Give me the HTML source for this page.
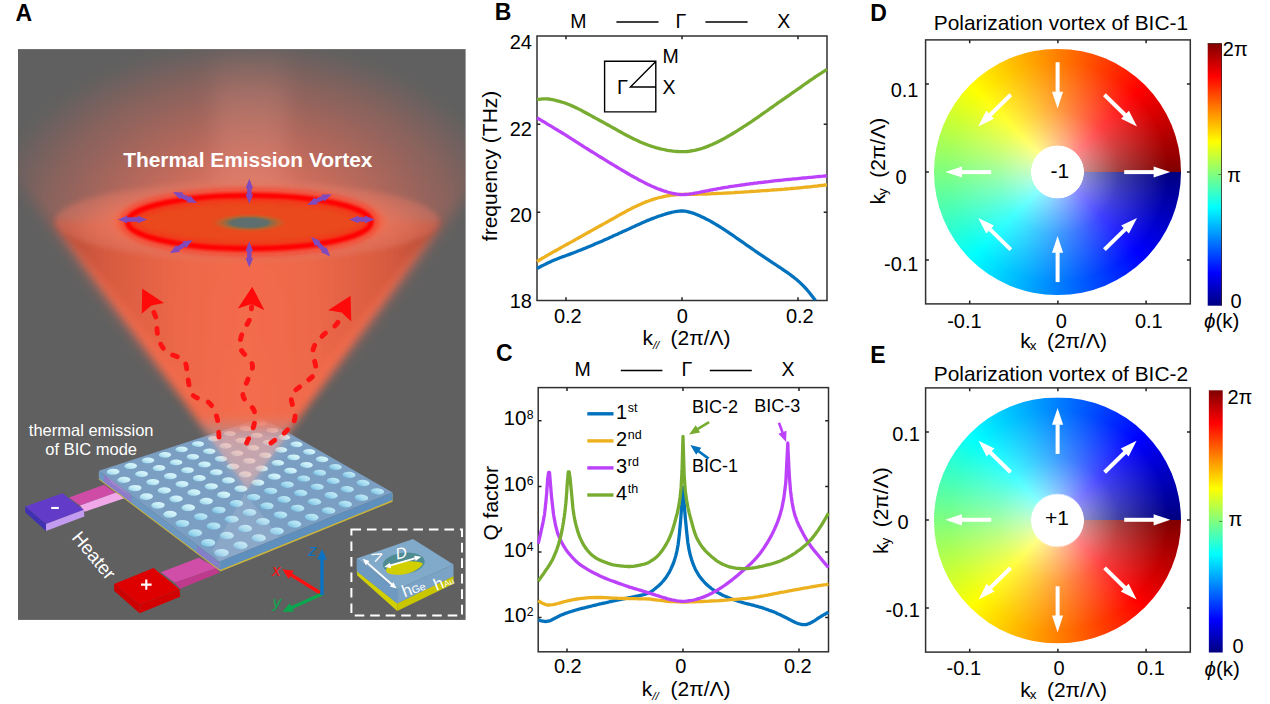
<!DOCTYPE html>
<html><head><meta charset="utf-8"><title>figure</title>
<style>
html,body{margin:0;padding:0;background:#fff}
body{width:1270px;height:704px;position:relative;overflow:hidden;font-family:"Liberation Sans",sans-serif}
svg{position:absolute;left:0;top:0}
svg text{font-family:"Liberation Sans",sans-serif}
</style></head><body>
<div style="position:absolute;left:934.4px;top:49.0px;width:246.4px;height:246.4px;border-radius:50%;background:radial-gradient(circle closest-side,#fff 0,#fff 21.2%,rgba(255,255,255,0.55) 21.7%,rgba(255,255,255,0.25) 50%,rgba(255,255,255,0) 90%),conic-gradient(from 90deg,#000080 0%,#0000ff 12.5%,#00ffff 37.5%,#ffff00 62.5%,#ff0000 87.5%,#800000 100%)"></div>
<div style="position:absolute;left:934.4px;top:396.9px;width:246.4px;height:246.4px;border-radius:50%;transform:scaleY(-1);background:radial-gradient(circle closest-side,#fff 0,#fff 21.2%,rgba(255,255,255,0.55) 21.7%,rgba(255,255,255,0.25) 50%,rgba(255,255,255,0) 90%),conic-gradient(from 90deg,#000080 0%,#0000ff 12.5%,#00ffff 37.5%,#ffff00 62.5%,#ff0000 87.5%,#800000 100%)"></div>

<svg width="1270" height="704" viewBox="0 0 1270 704">
<defs><linearGradient id="jetv" x1="0" y1="1" x2="0" y2="0">
<stop offset="0" stop-color="#000080"/><stop offset="0.125" stop-color="#0000ff"/><stop offset="0.375" stop-color="#00ffff"/>
<stop offset="0.625" stop-color="#ffff00"/><stop offset="0.875" stop-color="#ff0000"/><stop offset="1" stop-color="#800000"/></linearGradient>
<radialGradient id="haze" cx="0.5" cy="0.5" r="0.5">
<stop offset="0" stop-color="#ec7660" stop-opacity="0.96"/><stop offset="0.3" stop-color="#e4705c" stop-opacity="0.86"/>
<stop offset="0.55" stop-color="#d86a58" stop-opacity="0.64"/><stop offset="0.8" stop-color="#cc6658" stop-opacity="0.35"/>
<stop offset="0.93" stop-color="#c46456" stop-opacity="0.13"/>
<stop offset="1" stop-color="#c06458" stop-opacity="0"/></radialGradient>
<linearGradient id="column" x1="0" y1="0" x2="0" y2="1">
<stop offset="0" stop-color="#f0a090" stop-opacity="0"/><stop offset="0.35" stop-color="#f0a090" stop-opacity="0.22"/>
<stop offset="1" stop-color="#f09884" stop-opacity="0.3"/></linearGradient>
<filter id="blur8" filterUnits="userSpaceOnUse" x="-100" y="-20" width="700" height="700"><feGaussianBlur stdDeviation="9 4"/></filter>
<linearGradient id="coneV" x1="0" y1="1" x2="0" y2="0">
<stop offset="0" stop-color="#f7b4ac" stop-opacity="0.42"/><stop offset="0.2" stop-color="#f6a298" stop-opacity="0.5"/>
<stop offset="0.235" stop-color="#f4826c" stop-opacity="0.8"/><stop offset="0.275" stop-color="#f36c4c" stop-opacity="1"/>
<stop offset="1" stop-color="#f26a4a" stop-opacity="1"/></linearGradient>
<linearGradient id="coneH" x1="0" y1="0" x2="1" y2="0">
<stop offset="0" stop-color="#6a2820" stop-opacity="0.55"/><stop offset="0.12" stop-color="#8a3024" stop-opacity="0.3"/><stop offset="0.32" stop-color="#a03a28" stop-opacity="0.08"/>
<stop offset="0.5" stop-color="#ff8060" stop-opacity="0.04"/>
<stop offset="0.68" stop-color="#a03a28" stop-opacity="0.08"/><stop offset="0.88" stop-color="#8a3024" stop-opacity="0.3"/><stop offset="1" stop-color="#6a2820" stop-opacity="0.55"/></linearGradient>
<radialGradient id="topdisk" cx="0.5" cy="0.5" r="0.5">
<stop offset="0" stop-color="#f0745a" stop-opacity="1"/><stop offset="0.7" stop-color="#ea775f" stop-opacity="0.85"/>
<stop offset="1" stop-color="#de7864" stop-opacity="0.42"/></radialGradient>
<radialGradient id="core" cx="0.5" cy="0.5" r="0.5">
<stop offset="0" stop-color="#5e6e70"/><stop offset="0.46" stop-color="#606e6c"/><stop offset="0.56" stop-color="#8c6c48"/>
<stop offset="0.75" stop-color="#c2622c" stop-opacity="0.85"/><stop offset="1" stop-color="#e94a1f" stop-opacity="0"/></radialGradient>
<linearGradient id="hole0" x1="0" y1="1" x2="1" y2="0">
<stop offset="0" stop-color="#e2f8fc"/><stop offset="0.55" stop-color="#c4ecf6"/><stop offset="1" stop-color="#7fc4e4"/></linearGradient>
<linearGradient id="hole1" x1="0" y1="1" x2="1" y2="0">
<stop offset="0" stop-color="#cdeff8"/><stop offset="0.55" stop-color="#a4dbf0"/><stop offset="1" stop-color="#62b0dc"/></linearGradient>
<filter id="blur7" filterUnits="userSpaceOnUse" x="-100" y="-20" width="700" height="700"><feGaussianBlur stdDeviation="7"/></filter>
<filter id="blur4" filterUnits="userSpaceOnUse" x="-100" y="-20" width="700" height="700"><feGaussianBlur stdDeviation="4"/></filter>
<filter id="blur3" filterUnits="userSpaceOnUse" x="-100" y="-20" width="700" height="700"><feGaussianBlur stdDeviation="3"/></filter>
<filter id="blur2" filterUnits="userSpaceOnUse" x="-100" y="-20" width="700" height="700"><feGaussianBlur stdDeviation="2.5"/></filter>
<filter id="blur15" filterUnits="userSpaceOnUse" x="-100" y="-20" width="700" height="700"><feGaussianBlur stdDeviation="1.2"/></filter>
</defs>
<clipPath id="clipA"><rect x="18" y="49.1" width="447.6" height="570.8"/></clipPath>
<rect x="18" y="49.1" width="447.6" height="570.8" fill="#606060"/>
<g clip-path="url(#clipA)">
<clipPath id="clipHz"><polygon points="247.5,496 -84,40 579,40"/></clipPath>
<g filter="url(#blur7)"><g clip-path="url(#clipHz)"><ellipse cx="249" cy="224" rx="262" ry="182" fill="url(#haze)"/>
<rect x="214" y="40" width="72" height="190" fill="url(#column)" filter="url(#blur8)"/></g></g>
<polygon points="69.1,497.5 104.1,484.7 115.5,492.8 80.0,505.5" fill="#cf4ca6"/>
<polygon points="80.0,505.5 115.5,492.8 131.0,496.0 84.7,511.7" fill="#f0a8e8"/>
<polygon points="25.2,506.5 62.5,493.2 83.8,509.8 46.0,524.0" fill="#623cc8"/>
<polygon points="25.2,506.5 46.0,524.0 46.0,531.0 25.2,512.3" fill="#4030b2"/>
<polygon points="46.0,524.0 83.8,509.8 84.3,516.6 46.0,531.0" fill="#c39bf0"/>
<polygon points="160.9,572.2 198.8,557.8 216.9,567.9 174.8,582.8" fill="#d04ea8"/>
<polygon points="174.8,582.8 216.9,567.9 219.5,572.7 180.1,588.7" fill="#be3a8c"/>
<polygon points="114.1,583.9 153.5,567.9 179.6,589.2 139.6,604.7" fill="#de0000"/>
<polygon points="114.1,583.9 139.6,604.7 139.6,613.2 114.1,590.8" fill="#cc0000"/>
<polygon points="139.6,604.7 179.6,589.2 180.1,596.7 139.6,613.2" fill="#d20000"/>
<polygon points="98.9,471.8 218.9,562.8 392.6,493.5 392.6,501.7 220.4,571.6 98.9,479.6" fill="#c9b43c"/>
<polygon points="98.9,470.8 218.9,561.8 220.1,570.0 98.9,478.4" fill="#6d98c2"/>
<polygon points="218.9,561.8 392.6,492.5 392.6,500.1 220.1,570.0" fill="#5f90bd"/>
<polygon points="98.9,470.8 262.2,417.7 392.6,492.5 218.9,561.8" fill="#7a9fc3"/>
<ellipse cx="113.1" cy="471.8" rx="6.43" ry="3.03" transform="rotate(176.7 113.1 471.8)" fill="url(#hole0)"/>
<ellipse cx="123.9" cy="479.9" rx="6.51" ry="3.12" transform="rotate(176.9 123.9 479.9)" fill="url(#hole0)"/>
<ellipse cx="134.9" cy="488.1" rx="6.59" ry="3.21" transform="rotate(177.2 134.9 488.1)" fill="url(#hole0)"/>
<ellipse cx="146.3" cy="496.6" rx="6.68" ry="3.30" transform="rotate(177.4 146.3 496.6)" fill="url(#hole0)"/>
<ellipse cx="158.0" cy="505.3" rx="6.76" ry="3.39" transform="rotate(177.7 158.0 505.3)" fill="url(#hole0)"/>
<ellipse cx="170.0" cy="514.3" rx="6.86" ry="3.49" transform="rotate(178.0 170.0 514.3)" fill="url(#hole0)"/>
<ellipse cx="182.3" cy="523.5" rx="6.95" ry="3.59" transform="rotate(178.4 182.3 523.5)" fill="url(#hole1)"/>
<ellipse cx="195.1" cy="533.0" rx="7.05" ry="3.70" transform="rotate(178.8 195.1 533.0)" fill="url(#hole1)"/>
<ellipse cx="208.1" cy="542.8" rx="7.15" ry="3.81" transform="rotate(179.2 208.1 542.8)" fill="url(#hole1)"/>
<ellipse cx="221.6" cy="552.8" rx="7.25" ry="3.92" transform="rotate(179.6 221.6 552.8)" fill="url(#hole1)"/>
<ellipse cx="130.7" cy="466.1" rx="6.36" ry="2.98" transform="rotate(177.2 130.7 466.1)" fill="url(#hole0)"/>
<ellipse cx="141.6" cy="474.0" rx="6.44" ry="3.06" transform="rotate(177.4 141.6 474.0)" fill="url(#hole0)"/>
<ellipse cx="152.8" cy="482.1" rx="6.52" ry="3.15" transform="rotate(177.7 152.8 482.1)" fill="url(#hole0)"/>
<ellipse cx="164.3" cy="490.4" rx="6.60" ry="3.24" transform="rotate(178.0 164.3 490.4)" fill="url(#hole0)"/>
<ellipse cx="176.1" cy="498.9" rx="6.69" ry="3.33" transform="rotate(178.3 176.1 498.9)" fill="url(#hole0)"/>
<ellipse cx="188.3" cy="507.7" rx="6.78" ry="3.42" transform="rotate(178.6 188.3 507.7)" fill="url(#hole0)"/>
<ellipse cx="200.7" cy="516.7" rx="6.87" ry="3.52" transform="rotate(179.0 200.7 516.7)" fill="url(#hole1)"/>
<ellipse cx="213.6" cy="526.0" rx="6.97" ry="3.62" transform="rotate(179.4 213.6 526.0)" fill="url(#hole1)"/>
<ellipse cx="226.8" cy="535.6" rx="7.07" ry="3.73" transform="rotate(179.8 226.8 535.6)" fill="url(#hole1)"/>
<ellipse cx="240.4" cy="545.4" rx="7.18" ry="3.84" transform="rotate(-179.8 240.4 545.4)" fill="url(#hole1)"/>
<ellipse cx="148.0" cy="460.4" rx="6.29" ry="2.93" transform="rotate(177.7 148.0 460.4)" fill="url(#hole0)"/>
<ellipse cx="159.0" cy="468.1" rx="6.37" ry="3.01" transform="rotate(177.9 159.0 468.1)" fill="url(#hole0)"/>
<ellipse cx="170.3" cy="476.1" rx="6.45" ry="3.09" transform="rotate(178.2 170.3 476.1)" fill="url(#hole0)"/>
<ellipse cx="182.0" cy="484.2" rx="6.54" ry="3.18" transform="rotate(178.5 182.0 484.2)" fill="url(#hole0)"/>
<ellipse cx="193.9" cy="492.6" rx="6.62" ry="3.26" transform="rotate(178.8 193.9 492.6)" fill="url(#hole0)"/>
<ellipse cx="206.2" cy="501.2" rx="6.71" ry="3.35" transform="rotate(179.2 206.2 501.2)" fill="url(#hole0)"/>
<ellipse cx="218.8" cy="510.1" rx="6.80" ry="3.45" transform="rotate(179.5 218.8 510.1)" fill="url(#hole1)"/>
<ellipse cx="231.7" cy="519.2" rx="6.90" ry="3.55" transform="rotate(179.9 231.7 519.2)" fill="url(#hole1)"/>
<ellipse cx="245.1" cy="528.5" rx="7.00" ry="3.65" transform="rotate(-179.6 245.1 528.5)" fill="url(#hole1)"/>
<ellipse cx="258.8" cy="538.1" rx="7.10" ry="3.76" transform="rotate(-179.2 258.8 538.1)" fill="url(#hole1)"/>
<ellipse cx="165.0" cy="454.8" rx="6.23" ry="2.88" transform="rotate(178.2 165.0 454.8)" fill="url(#hole0)"/>
<ellipse cx="176.1" cy="462.4" rx="6.31" ry="2.96" transform="rotate(178.4 176.1 462.4)" fill="url(#hole0)"/>
<ellipse cx="187.5" cy="470.2" rx="6.39" ry="3.03" transform="rotate(178.7 187.5 470.2)" fill="url(#hole0)"/>
<ellipse cx="199.3" cy="478.2" rx="6.47" ry="3.12" transform="rotate(179.0 199.3 478.2)" fill="url(#hole0)"/>
<ellipse cx="211.3" cy="486.4" rx="6.55" ry="3.20" transform="rotate(179.3 211.3 486.4)" fill="url(#hole0)"/>
<ellipse cx="223.7" cy="494.9" rx="6.64" ry="3.29" transform="rotate(179.7 223.7 494.9)" fill="url(#hole0)"/>
<ellipse cx="236.4" cy="503.5" rx="6.74" ry="3.38" transform="rotate(-179.9 236.4 503.5)" fill="url(#hole1)"/>
<ellipse cx="249.5" cy="512.5" rx="6.83" ry="3.48" transform="rotate(-179.5 249.5 512.5)" fill="url(#hole1)"/>
<ellipse cx="262.9" cy="521.6" rx="6.93" ry="3.57" transform="rotate(-179.1 262.9 521.6)" fill="url(#hole1)"/>
<ellipse cx="276.8" cy="531.1" rx="7.03" ry="3.68" transform="rotate(-178.6 276.8 531.1)" fill="url(#hole1)"/>
<ellipse cx="181.6" cy="449.4" rx="6.17" ry="2.83" transform="rotate(178.6 181.6 449.4)" fill="url(#hole0)"/>
<ellipse cx="192.9" cy="456.8" rx="6.24" ry="2.90" transform="rotate(178.9 192.9 456.8)" fill="url(#hole0)"/>
<ellipse cx="204.4" cy="464.5" rx="6.32" ry="2.98" transform="rotate(179.2 204.4 464.5)" fill="url(#hole0)"/>
<ellipse cx="216.2" cy="472.3" rx="6.41" ry="3.06" transform="rotate(179.5 216.2 472.3)" fill="url(#hole0)"/>
<ellipse cx="228.4" cy="480.4" rx="6.49" ry="3.14" transform="rotate(179.8 228.4 480.4)" fill="url(#hole0)"/>
<ellipse cx="240.9" cy="488.7" rx="6.58" ry="3.23" transform="rotate(-179.8 240.9 488.7)" fill="url(#hole0)"/>
<ellipse cx="253.7" cy="497.2" rx="6.67" ry="3.31" transform="rotate(-179.4 253.7 497.2)" fill="url(#hole1)"/>
<ellipse cx="266.9" cy="505.9" rx="6.77" ry="3.40" transform="rotate(-179.0 266.9 505.9)" fill="url(#hole1)"/>
<ellipse cx="280.5" cy="514.9" rx="6.86" ry="3.50" transform="rotate(-178.6 280.5 514.9)" fill="url(#hole1)"/>
<ellipse cx="294.4" cy="524.1" rx="6.97" ry="3.60" transform="rotate(-178.1 294.4 524.1)" fill="url(#hole1)"/>
<ellipse cx="198.0" cy="444.0" rx="6.11" ry="2.78" transform="rotate(179.1 198.0 444.0)" fill="url(#hole0)"/>
<ellipse cx="209.3" cy="451.3" rx="6.19" ry="2.85" transform="rotate(179.3 209.3 451.3)" fill="url(#hole0)"/>
<ellipse cx="221.0" cy="458.8" rx="6.26" ry="2.92" transform="rotate(179.6 221.0 458.8)" fill="url(#hole0)"/>
<ellipse cx="232.9" cy="466.5" rx="6.35" ry="3.00" transform="rotate(180.0 232.9 466.5)" fill="url(#hole0)"/>
<ellipse cx="245.2" cy="474.4" rx="6.43" ry="3.08" transform="rotate(-179.7 245.2 474.4)" fill="url(#hole0)"/>
<ellipse cx="257.8" cy="482.6" rx="6.52" ry="3.16" transform="rotate(-179.3 257.8 482.6)" fill="url(#hole0)"/>
<ellipse cx="270.7" cy="490.9" rx="6.61" ry="3.25" transform="rotate(-178.9 270.7 490.9)" fill="url(#hole1)"/>
<ellipse cx="284.0" cy="499.4" rx="6.70" ry="3.34" transform="rotate(-178.5 284.0 499.4)" fill="url(#hole1)"/>
<ellipse cx="297.6" cy="508.2" rx="6.80" ry="3.43" transform="rotate(-178.1 297.6 508.2)" fill="url(#hole1)"/>
<ellipse cx="311.7" cy="517.3" rx="6.90" ry="3.52" transform="rotate(-177.6 311.7 517.3)" fill="url(#hole1)"/>
<ellipse cx="214.0" cy="438.7" rx="6.05" ry="2.73" transform="rotate(179.5 214.0 438.7)" fill="url(#hole0)"/>
<ellipse cx="225.5" cy="445.9" rx="6.13" ry="2.80" transform="rotate(179.8 225.5 445.9)" fill="url(#hole0)"/>
<ellipse cx="237.2" cy="453.3" rx="6.21" ry="2.87" transform="rotate(-179.9 237.2 453.3)" fill="url(#hole0)"/>
<ellipse cx="249.3" cy="460.9" rx="6.29" ry="2.94" transform="rotate(-179.6 249.3 460.9)" fill="url(#hole0)"/>
<ellipse cx="261.6" cy="468.6" rx="6.37" ry="3.02" transform="rotate(-179.2 261.6 468.6)" fill="url(#hole0)"/>
<ellipse cx="274.3" cy="476.6" rx="6.46" ry="3.10" transform="rotate(-178.9 274.3 476.6)" fill="url(#hole0)"/>
<ellipse cx="287.3" cy="484.7" rx="6.55" ry="3.18" transform="rotate(-178.5 287.3 484.7)" fill="url(#hole1)"/>
<ellipse cx="300.7" cy="493.1" rx="6.64" ry="3.27" transform="rotate(-178.1 300.7 493.1)" fill="url(#hole1)"/>
<ellipse cx="314.5" cy="501.8" rx="6.74" ry="3.35" transform="rotate(-177.6 314.5 501.8)" fill="url(#hole1)"/>
<ellipse cx="328.6" cy="510.6" rx="6.84" ry="3.45" transform="rotate(-177.1 328.6 510.6)" fill="url(#hole1)"/>
<ellipse cx="229.8" cy="433.6" rx="6.00" ry="2.68" transform="rotate(179.9 229.8 433.6)" fill="url(#hole0)"/>
<ellipse cx="241.3" cy="440.6" rx="6.07" ry="2.75" transform="rotate(-179.8 241.3 440.6)" fill="url(#hole0)"/>
<ellipse cx="253.2" cy="447.9" rx="6.15" ry="2.82" transform="rotate(-179.5 253.2 447.9)" fill="url(#hole0)"/>
<ellipse cx="265.3" cy="455.3" rx="6.23" ry="2.89" transform="rotate(-179.2 265.3 455.3)" fill="url(#hole0)"/>
<ellipse cx="277.8" cy="462.9" rx="6.31" ry="2.96" transform="rotate(-178.8 277.8 462.9)" fill="url(#hole0)"/>
<ellipse cx="290.5" cy="470.7" rx="6.40" ry="3.04" transform="rotate(-178.4 290.5 470.7)" fill="url(#hole0)"/>
<ellipse cx="303.7" cy="478.7" rx="6.49" ry="3.12" transform="rotate(-178.0 303.7 478.7)" fill="url(#hole1)"/>
<ellipse cx="317.1" cy="486.9" rx="6.58" ry="3.20" transform="rotate(-177.6 317.1 486.9)" fill="url(#hole1)"/>
<ellipse cx="331.0" cy="495.4" rx="6.68" ry="3.28" transform="rotate(-177.2 331.0 495.4)" fill="url(#hole1)"/>
<ellipse cx="345.2" cy="504.1" rx="6.78" ry="3.37" transform="rotate(-176.7 345.2 504.1)" fill="url(#hole1)"/>
<ellipse cx="245.3" cy="428.5" rx="5.95" ry="2.63" transform="rotate(-179.7 245.3 428.5)" fill="url(#hole0)"/>
<ellipse cx="256.9" cy="435.4" rx="6.02" ry="2.70" transform="rotate(-179.4 256.9 435.4)" fill="url(#hole0)"/>
<ellipse cx="268.8" cy="442.5" rx="6.10" ry="2.77" transform="rotate(-179.1 268.8 442.5)" fill="url(#hole0)"/>
<ellipse cx="281.1" cy="449.8" rx="6.18" ry="2.84" transform="rotate(-178.8 281.1 449.8)" fill="url(#hole0)"/>
<ellipse cx="293.6" cy="457.3" rx="6.26" ry="2.91" transform="rotate(-178.4 293.6 457.3)" fill="url(#hole0)"/>
<ellipse cx="306.5" cy="464.9" rx="6.35" ry="2.98" transform="rotate(-178.0 306.5 464.9)" fill="url(#hole0)"/>
<ellipse cx="319.7" cy="472.8" rx="6.44" ry="3.06" transform="rotate(-177.6 319.7 472.8)" fill="url(#hole1)"/>
<ellipse cx="333.2" cy="480.9" rx="6.53" ry="3.13" transform="rotate(-177.2 333.2 480.9)" fill="url(#hole1)"/>
<ellipse cx="347.2" cy="489.2" rx="6.63" ry="3.22" transform="rotate(-176.8 347.2 489.2)" fill="url(#hole1)"/>
<ellipse cx="361.5" cy="497.7" rx="6.73" ry="3.30" transform="rotate(-176.3 361.5 497.7)" fill="url(#hole1)"/>
<ellipse cx="260.5" cy="423.5" rx="5.90" ry="2.59" transform="rotate(-179.4 260.5 423.5)" fill="url(#hole0)"/>
<ellipse cx="272.2" cy="430.3" rx="5.97" ry="2.65" transform="rotate(-179.1 272.2 430.3)" fill="url(#hole0)"/>
<ellipse cx="284.2" cy="437.3" rx="6.05" ry="2.72" transform="rotate(-178.8 284.2 437.3)" fill="url(#hole0)"/>
<ellipse cx="296.5" cy="444.4" rx="6.13" ry="2.78" transform="rotate(-178.4 296.5 444.4)" fill="url(#hole0)"/>
<ellipse cx="309.2" cy="451.8" rx="6.21" ry="2.85" transform="rotate(-178.0 309.2 451.8)" fill="url(#hole0)"/>
<ellipse cx="322.1" cy="459.3" rx="6.29" ry="2.92" transform="rotate(-177.7 322.1 459.3)" fill="url(#hole0)"/>
<ellipse cx="335.4" cy="467.0" rx="6.38" ry="3.00" transform="rotate(-177.3 335.4 467.0)" fill="url(#hole1)"/>
<ellipse cx="349.0" cy="474.9" rx="6.48" ry="3.07" transform="rotate(-176.8 349.0 474.9)" fill="url(#hole1)"/>
<ellipse cx="363.0" cy="483.0" rx="6.57" ry="3.15" transform="rotate(-176.4 363.0 483.0)" fill="url(#hole1)"/>
<ellipse cx="377.4" cy="491.4" rx="6.67" ry="3.23" transform="rotate(-175.9 377.4 491.4)" fill="url(#hole1)"/>
<polygon points="104.0,474.7 131.0,495.1 131.6,502.8 104.0,482.3" fill="#c050d8" fill-opacity="0.38"/>
<polygon points="106.0,476.0 112.0,483.2 131.0,496.5 124.5,490.2" fill="#f4a8e4" fill-opacity="0.25"/>
<polygon points="197.0,545.2 218.9,561.8 220.0,569.8 197.0,553.0" fill="#b050d8" fill-opacity="0.35"/>
<polygon points="245.0,493.0 212.0,551.0 219.4,561.8 279.0,537.0" fill="#ffe4ec" fill-opacity="0.13"/>
<polygon points="247.5,489.0 208.5,436.0 286.5,436.0" fill="#ffb0a6" fill-opacity="0.22"/>
<g filter="url(#blur4)">
<polygon points="247.5,490.0 53.3,221.0 441.7,221.0" fill="url(#coneV)"/>
<polygon points="247.5,460.0 53.3,221.0 441.7,221.0" fill="url(#coneH)"/>
</g>
<ellipse cx="247" cy="221" rx="192" ry="40" fill="url(#topdisk)" filter="url(#blur2)"/>
<ellipse cx="249.3" cy="222" rx="136" ry="31.5" fill="#f2694a" filter="url(#blur3)"/>
<ellipse cx="249.3" cy="222" rx="121.7" ry="26.6" fill="#e94a1f" stroke="#ff1a10" stroke-opacity="0.55" stroke-width="12" filter="url(#blur3)"/>
<ellipse cx="249.3" cy="222" rx="121.7" ry="26.6" fill="none" stroke="#ff0505" stroke-width="5" filter="url(#blur15)"/>
<ellipse cx="249.3" cy="222.8" rx="40" ry="9.6" fill="url(#core)"/>
<polygon points="249.3,178.8 245.5,188.3 247.1,188.3 247.1,194.3 245.5,194.3 249.3,203.8 253.1,194.3 251.5,194.3 251.5,188.3 253.1,188.3" fill="#8049bc"/>
<polygon points="249.3,241.5 245.5,251.0 247.1,251.0 247.1,258.0 245.5,258.0 249.3,267.5 253.1,258.0 251.5,258.0 251.5,251.0 253.1,251.0" fill="#8049bc"/>
<polygon points="117.8,219.5 127.2,223.3 127.2,221.7 137.8,221.7 137.8,223.3 147.2,219.5 137.8,215.7 137.8,217.3 127.2,217.3 127.2,215.7" fill="#8049bc"/>
<polygon points="349.1,219.5 358.6,223.3 358.6,221.7 365.1,221.7 365.1,223.3 374.6,219.5 365.1,215.7 365.1,217.3 358.6,217.3 358.6,215.7" fill="#8049bc"/>
<polygon points="173.0,191.9 180.0,199.4 180.7,197.9 187.5,201.1 186.8,202.5 197.0,203.1 190.0,195.6 189.3,197.1 182.5,193.9 183.2,192.5" fill="#8049bc"/>
<polygon points="307.3,204.9 317.6,204.6 316.9,203.1 323.8,200.1 324.5,201.6 331.7,194.3 321.4,194.6 322.1,196.1 315.2,199.1 314.5,197.6" fill="#8049bc"/>
<polygon points="169.8,253.3 179.9,251.8 179.1,250.4 185.5,246.6 186.4,248.0 192.6,239.9 182.5,241.4 183.3,242.8 176.9,246.6 176.0,245.2" fill="#8049bc"/>
<polygon points="311.1,236.8 315.0,246.2 316.2,245.1 322.1,251.2 321.0,252.3 330.3,256.4 326.4,247.0 325.2,248.1 319.3,242.0 320.4,240.9" fill="#8049bc"/>
<text x="247.8" y="167.3" font-size="20.9" font-weight="bold" fill="#fff" text-anchor="middle">Thermal Emission Vortex</text>
<path d="M219.0 437.0 C218.7 433.8 218.6 423.3 217.0 417.6 C215.4 411.9 213.4 406.8 209.3 403.0 C205.2 399.2 196.0 399.1 192.4 394.7 C188.8 390.3 189.0 382.2 187.6 376.6 C186.2 371.0 187.6 365.1 184.0 360.9 C180.4 356.7 170.2 355.2 165.9 351.2 C161.6 347.2 159.6 342.1 158.0 336.7 C156.4 331.3 157.4 323.9 156.2 318.6 C154.9 313.3 151.4 307.3 150.5 305.0" fill="none" stroke="#ff1212" stroke-width="4.9" stroke-linecap="round" stroke-dasharray="4.8 11.6"/><polygon points="142.2,288.5 141.7,313.8 151.4,305.4 164.0,303.0" fill="#ff0a0a"/>
<path d="M246.7 443.0 C247.9 440.0 252.8 430.3 254.0 424.9 C255.2 419.5 255.8 415.2 254.0 410.4 C252.2 405.6 244.0 401.1 243.0 395.9 C242.0 390.7 246.4 384.2 248.0 379.0 C249.6 373.8 253.5 369.5 252.3 364.5 C251.1 359.5 242.4 353.8 240.7 348.8 C239.0 343.8 240.4 339.3 241.9 334.3 C243.4 329.3 248.3 323.2 249.9 318.6 C251.5 314.0 251.3 308.6 251.6 306.6" fill="none" stroke="#ff1212" stroke-width="4.9" stroke-linecap="round" stroke-dasharray="4.8 11.6"/><polygon points="252.3,286.8 237.8,308.5 251.6,304.1 264.4,310.2" fill="#ff0a0a"/>
<path d="M270.9 443.0 C273.5 441.0 282.6 435.1 286.6 430.9 C290.6 426.7 294.2 423.4 295.0 417.6 C295.8 411.8 290.0 401.5 291.4 395.9 C292.8 390.3 299.5 387.8 303.5 383.8 C307.5 379.8 314.0 377.3 315.6 371.7 C317.2 366.1 312.1 355.8 313.1 350.0 C314.1 344.2 317.8 340.9 321.6 336.7 C325.4 332.5 332.7 328.5 336.1 324.7 C339.5 320.9 341.1 315.6 342.1 313.8" fill="none" stroke="#ff1212" stroke-width="4.9" stroke-linecap="round" stroke-dasharray="4.8 11.6"/><polygon points="350.6,295.7 328.1,310.2 341.6,312.6 351.3,321.5" fill="#ff0a0a"/>
<text x="91.2" y="435.6" font-size="16.5" fill="#fff" text-anchor="middle">thermal emission</text>
<text x="91.2" y="454.6" font-size="16.5" fill="#fff" text-anchor="middle">of BIC mode</text>
<text transform="translate(71.0,538.0) rotate(50)" font-size="18.7" fill="#fff">Heater</text>
<rect x="51.2" y="506.9" width="7.6" height="2.1" fill="#fff"/>
<path d="M141.0 584.6 H151.6 M146.3 579.4 V589.8" stroke="#fff" stroke-width="2.1"/>
<path d="M322.0 594.0 L290.8 574.6" stroke="#ff1010" stroke-width="3.4" fill="none"/><polygon points="282.3,569.3 293.7,570.8 288.7,578.9" fill="#ff1010"/>
<path d="M322.0 594.0 L291.4 607.7" stroke="#0ca64e" stroke-width="3.4" fill="none"/><polygon points="282.3,611.8 289.9,603.2 293.8,611.8" fill="#0ca64e"/>
<path d="M322.0 595.0 L322.0 559.0" stroke="#0b72c4" stroke-width="3.4" fill="none"/><polygon points="322.0,549.0 326.8,559.5 317.2,559.5" fill="#0b72c4"/>
<text x="308.2" y="555.6" font-size="17" font-style="italic" fill="#0b72c4">z</text>
<text x="272.0" y="575.5" font-size="17" font-style="italic" fill="#ff1010">x</text>
<text x="272.4" y="608.3" font-size="17" font-style="italic" fill="#0ca64e">y</text>
<rect x="351.4" y="529.4" width="110.6" height="86.2" fill="none" stroke="#fff" stroke-width="2" stroke-dasharray="9.6 5.9"/>
<polygon points="356.7,571.0 397.2,603.2 397.2,611.0 357.4,575.6" fill="#d2cf00"/>
<polygon points="397.2,603.2 453.5,576.0 453.5,583.7 397.2,611.0" fill="#c9c600"/>
<polygon points="356.7,558.4 397.2,589.4 397.2,603.5 356.7,571.3" fill="#6e99c1"/>
<polygon points="397.2,589.4 453.5,564.6 453.5,576.2 397.2,603.5" fill="#7aa3c6"/>
<polygon points="356.7,558.4 413.0,539.0 453.5,564.6 397.2,589.4" fill="#80a9ca"/>
<clipPath id="holeI"><ellipse cx="403.8" cy="563.3" rx="21" ry="10.6" transform="rotate(-6 403.8 563.3)"/></clipPath>
<ellipse cx="403.8" cy="563.3" rx="21" ry="10.6" transform="rotate(-6 403.8 563.3)" fill="#4f8c92"/>
<ellipse cx="405.5" cy="568.6" rx="19.5" ry="7.2" transform="rotate(-6 405.5 568.6)" fill="#d2cf00" clip-path="url(#holeI)"/>
<polygon points="362.7,558.8 365.8,565.2 367.0,563.8 391.0,585.0 389.8,586.4 396.5,588.6 393.4,582.2 392.2,583.6 368.2,562.4 369.4,561.0" fill="#fff"/>
<polygon points="384.2,567.1 391.2,568.0 390.7,566.2 415.2,559.3 415.7,561.1 421.2,556.7 414.2,555.8 414.7,557.6 390.2,564.5 389.7,562.7" fill="#fff"/>
<text transform="translate(371.2,554.0) rotate(64)" font-size="14" fill="#fff">Λ</text>
<text transform="translate(397.0,559.6) rotate(-14)" font-size="15.5" fill="#fff" font-style="italic">D</text>
<text transform="translate(404.5,597.5) rotate(-21)" font-size="17" fill="#fff">h<tspan font-size="10.5">Ge</tspan></text>
<text transform="translate(436.5,591.0) rotate(-23)" font-size="17" fill="#fff">h<tspan font-size="8.5">Au</tspan></text>
</g>
<text x="15.6" y="21.0" font-size="23" font-weight="bold">A</text>
<rect x="537" y="36" width="290" height="264.5" fill="none" stroke="#303030" stroke-width="1.5"/>
<path d="M566 36 v3.3 M566 300.5 v-3.3 M682 36 v3.3 M682 300.5 v-3.3 M798 36 v3.3 M798 300.5 v-3.3 M537 124.2 h3.3 M827 124.2 h-3.3 M537 212.3 h3.3 M827 212.3 h-3.3" stroke="#222222" stroke-width="1.5" fill="none"/>
<clipPath id="clipB"><rect x="536" y="36" width="292" height="264.5"/></clipPath>
<g clip-path="url(#clipB)" fill="none" stroke-width="3.3" stroke-linejoin="round">
<polyline points="537.0,268.5 538.9,267.5 540.7,266.5 542.6,265.6 544.5,264.6 546.3,263.7 548.2,262.8 550.1,261.9 552.0,261.1 553.8,260.3 555.7,259.5 557.6,258.8 559.4,258.0 561.3,257.3 563.2,256.6 565.0,256.0 566.9,255.3 568.8,254.6 570.6,253.9 572.5,253.2 574.4,252.5 576.3,251.8 578.1,251.0 580.0,250.3 581.9,249.6 583.7,248.8 585.6,248.1 587.5,247.3 589.3,246.5 591.2,245.7 593.1,244.9 594.9,244.1 596.8,243.3 598.7,242.5 600.6,241.7 602.4,240.9 604.3,240.0 606.2,239.2 608.0,238.4 609.9,237.5 611.8,236.7 613.6,235.8 615.5,235.0 617.4,234.2 619.2,233.3 621.1,232.5 623.0,231.6 624.8,230.8 626.7,229.9 628.6,229.1 630.5,228.2 632.3,227.3 634.2,226.5 636.1,225.6 637.9,224.8 639.8,223.9 641.7,223.1 643.5,222.2 645.4,221.4 647.3,220.6 649.1,219.9 651.0,219.1 652.9,218.4 654.8,217.7 656.6,217.0 658.5,216.3 660.4,215.7 662.2,215.1 664.1,214.5 666.0,213.9 667.8,213.4 669.7,212.9 671.6,212.4 673.4,212.0 675.3,211.6 677.2,211.3 679.1,211.1 680.9,211.0 682.8,211.0 684.7,211.2 686.5,211.4 688.4,211.8 690.3,212.3 692.1,212.8 694.0,213.5 695.9,214.2 697.7,215.0 699.6,215.8 701.5,216.7 703.4,217.6 705.2,218.5 707.1,219.4 709.0,220.4 710.8,221.4 712.7,222.5 714.6,223.6 716.4,224.7 718.3,225.8 720.2,227.0 722.0,228.2 723.9,229.4 725.8,230.6 727.7,231.8 729.5,233.1 731.4,234.4 733.3,235.7 735.1,237.0 737.0,238.3 738.9,239.6 740.7,240.9 742.6,242.2 744.5,243.5 746.3,244.8 748.2,246.1 750.1,247.4 751.9,248.7 753.8,250.0 755.7,251.3 757.6,252.6 759.4,253.9 761.3,255.1 763.2,256.4 765.0,257.6 766.9,258.8 768.8,260.1 770.6,261.3 772.5,262.6 774.4,263.8 776.2,265.0 778.1,266.3 780.0,267.5 781.9,268.8 783.7,270.1 785.6,271.4 787.5,272.7 789.3,274.0 791.2,275.4 793.1,276.8 794.9,278.3 796.8,279.8 798.7,281.4 800.5,283.1 802.4,284.9 804.3,286.8 806.2,288.9 808.0,291.0 809.9,293.3 811.8,295.7 813.6,298.1 815.5,300.5" stroke="#0072BD"/>
<polyline points="537.0,261.5 538.9,260.3 540.9,259.2 542.8,258.0 544.8,256.9 546.7,255.7 548.7,254.6 550.6,253.5 552.6,252.4 554.5,251.3 556.5,250.2 558.4,249.1 560.4,248.0 562.3,246.9 564.2,245.9 566.2,244.8 568.1,243.7 570.1,242.6 572.0,241.6 574.0,240.5 575.9,239.4 577.9,238.3 579.8,237.2 581.8,236.1 583.7,235.0 585.7,233.9 587.6,232.8 589.6,231.7 591.5,230.6 593.4,229.6 595.4,228.5 597.3,227.4 599.3,226.3 601.2,225.2 603.2,224.1 605.1,223.1 607.1,222.0 609.0,220.9 611.0,219.8 612.9,218.7 614.9,217.6 616.8,216.5 618.7,215.4 620.7,214.3 622.6,213.2 624.6,212.2 626.5,211.1 628.5,210.1 630.4,209.1 632.4,208.1 634.3,207.1 636.3,206.2 638.2,205.3 640.2,204.4 642.1,203.5 644.0,202.7 646.0,201.9 647.9,201.2 649.9,200.5 651.8,199.8 653.8,199.2 655.7,198.6 657.7,198.0 659.6,197.5 661.6,197.1 663.5,196.6 665.5,196.2 667.4,195.8 669.3,195.5 671.3,195.2 673.2,195.0 675.2,194.8 677.1,194.6 679.1,194.5 681.0,194.4 683.0,194.4 684.9,194.3 686.9,194.3 688.8,194.3 690.8,194.3 692.7,194.3 694.7,194.3 696.6,194.3 698.5,194.2 700.5,194.2 702.4,194.1 704.4,194.1 706.3,194.0 708.3,193.9 710.2,193.8 712.2,193.7 714.1,193.6 716.1,193.5 718.0,193.4 720.0,193.4 721.9,193.3 723.8,193.2 725.8,193.1 727.7,193.0 729.7,192.9 731.6,192.8 733.6,192.7 735.5,192.5 737.5,192.4 739.4,192.3 741.4,192.2 743.3,192.1 745.3,191.9 747.2,191.8 749.1,191.7 751.1,191.5 753.0,191.4 755.0,191.3 756.9,191.1 758.9,191.0 760.8,190.9 762.8,190.7 764.7,190.6 766.7,190.5 768.6,190.3 770.6,190.2 772.5,190.0 774.4,189.9 776.4,189.8 778.3,189.6 780.3,189.5 782.2,189.3 784.2,189.2 786.1,189.0 788.1,188.8 790.0,188.7 792.0,188.5 793.9,188.3 795.9,188.2 797.8,188.0 799.8,187.8 801.7,187.6 803.6,187.4 805.6,187.2 807.5,187.0 809.5,186.8 811.4,186.6 813.4,186.4 815.3,186.2 817.3,186.0 819.2,185.7 821.2,185.5 823.1,185.3 825.1,185.0 827.0,184.8" stroke="#EDB120"/>
<polyline points="537.0,117.8 538.9,119.0 540.9,120.1 542.8,121.3 544.8,122.4 546.7,123.6 548.7,124.8 550.6,125.9 552.6,127.1 554.5,128.3 556.5,129.5 558.4,130.7 560.4,131.8 562.3,133.0 564.2,134.2 566.2,135.4 568.1,136.7 570.1,137.9 572.0,139.1 574.0,140.3 575.9,141.6 577.9,142.8 579.8,144.1 581.8,145.3 583.7,146.6 585.7,147.8 587.6,149.0 589.6,150.3 591.5,151.5 593.4,152.7 595.4,153.9 597.3,155.1 599.3,156.3 601.2,157.5 603.2,158.7 605.1,159.9 607.1,161.1 609.0,162.3 611.0,163.5 612.9,164.7 614.9,165.9 616.8,167.0 618.7,168.2 620.7,169.4 622.6,170.5 624.6,171.7 626.5,172.8 628.5,174.0 630.4,175.1 632.4,176.2 634.3,177.3 636.3,178.3 638.2,179.4 640.2,180.4 642.1,181.4 644.0,182.4 646.0,183.4 647.9,184.4 649.9,185.3 651.8,186.2 653.8,187.0 655.7,187.9 657.7,188.7 659.6,189.4 661.6,190.1 663.5,190.8 665.5,191.4 667.4,192.0 669.3,192.5 671.3,193.0 673.2,193.5 675.2,193.8 677.1,194.2 679.1,194.4 681.0,194.6 683.0,194.6 684.9,194.5 686.9,194.4 688.8,194.2 690.8,193.9 692.7,193.6 694.7,193.2 696.6,192.9 698.5,192.5 700.5,192.1 702.4,191.7 704.4,191.3 706.3,190.9 708.3,190.6 710.2,190.2 712.2,189.8 714.1,189.4 716.1,189.1 718.0,188.7 720.0,188.4 721.9,188.0 723.8,187.7 725.8,187.4 727.7,187.1 729.7,186.7 731.6,186.4 733.6,186.2 735.5,185.9 737.5,185.6 739.4,185.3 741.4,185.0 743.3,184.8 745.3,184.5 747.2,184.2 749.1,184.0 751.1,183.7 753.0,183.5 755.0,183.2 756.9,183.0 758.9,182.7 760.8,182.5 762.8,182.3 764.7,182.0 766.7,181.8 768.6,181.6 770.6,181.3 772.5,181.1 774.4,180.9 776.4,180.7 778.3,180.5 780.3,180.3 782.2,180.1 784.2,179.9 786.1,179.7 788.1,179.5 790.0,179.3 792.0,179.1 793.9,178.9 795.9,178.8 797.8,178.6 799.8,178.4 801.7,178.2 803.6,178.0 805.6,177.8 807.5,177.6 809.5,177.4 811.4,177.3 813.4,177.1 815.3,176.9 817.3,176.7 819.2,176.5 821.2,176.3 823.1,176.2 825.1,176.0 827.0,175.8" stroke="#BC41FB"/>
<polyline points="537.0,99.6 538.9,99.3 540.9,99.1 542.8,98.9 544.8,98.8 546.7,98.9 548.7,99.0 550.6,99.3 552.6,99.7 554.5,100.1 556.5,100.6 558.4,101.1 560.4,101.6 562.3,102.2 564.2,102.8 566.2,103.5 568.1,104.2 570.1,105.0 572.0,105.9 574.0,106.7 575.9,107.7 577.9,108.6 579.8,109.6 581.8,110.6 583.7,111.7 585.7,112.7 587.6,113.8 589.6,114.9 591.5,115.9 593.4,117.0 595.4,118.1 597.3,119.1 599.3,120.2 601.2,121.2 603.2,122.3 605.1,123.4 607.1,124.5 609.0,125.5 611.0,126.6 612.9,127.7 614.9,128.8 616.8,129.9 618.7,131.0 620.7,132.0 622.6,133.1 624.6,134.2 626.5,135.2 628.5,136.2 630.4,137.2 632.4,138.2 634.3,139.2 636.3,140.1 638.2,141.0 640.2,141.9 642.1,142.7 644.0,143.5 646.0,144.3 647.9,145.0 649.9,145.7 651.8,146.4 653.8,147.0 655.7,147.6 657.7,148.1 659.6,148.6 661.6,149.1 663.5,149.5 665.5,149.9 667.4,150.3 669.3,150.6 671.3,150.9 673.2,151.2 675.2,151.4 677.1,151.5 679.1,151.6 681.0,151.7 683.0,151.7 684.9,151.6 686.9,151.5 688.8,151.3 690.8,151.0 692.7,150.7 694.7,150.4 696.6,149.9 698.5,149.4 700.5,148.9 702.4,148.3 704.4,147.6 706.3,146.9 708.3,146.1 710.2,145.3 712.2,144.5 714.1,143.6 716.1,142.7 718.0,141.7 720.0,140.7 721.9,139.7 723.8,138.7 725.8,137.6 727.7,136.5 729.7,135.3 731.6,134.2 733.6,133.0 735.5,131.8 737.5,130.6 739.4,129.4 741.4,128.2 743.3,126.9 745.3,125.7 747.2,124.4 749.1,123.1 751.1,121.8 753.0,120.5 755.0,119.2 756.9,117.8 758.9,116.5 760.8,115.1 762.8,113.7 764.7,112.4 766.7,111.0 768.6,109.6 770.6,108.2 772.5,106.8 774.4,105.5 776.4,104.1 778.3,102.7 780.3,101.4 782.2,100.0 784.2,98.7 786.1,97.3 788.1,96.0 790.0,94.6 792.0,93.2 793.9,91.9 795.9,90.5 797.8,89.1 799.8,87.8 801.7,86.4 803.6,85.0 805.6,83.6 807.5,82.3 809.5,80.9 811.4,79.6 813.4,78.3 815.3,76.9 817.3,75.6 819.2,74.4 821.2,73.1 823.1,71.8 825.1,70.6 827.0,69.3" stroke="#77AC30"/>
</g>
<text x="531.9" y="48.6" font-size="20" text-anchor="end" font-weight="normal" fill="#000" >24</text>
<text x="531.9" y="135.8" font-size="20" text-anchor="end" font-weight="normal" fill="#000" >22</text>
<text x="531.9" y="222.0" font-size="20" text-anchor="end" font-weight="normal" fill="#000" >20</text>
<text x="531.9" y="308.1" font-size="20" text-anchor="end" font-weight="normal" fill="#000" >18</text>
<text x="567.8" y="323.3" font-size="20" text-anchor="middle" font-weight="normal" fill="#000" >0.2</text>
<text x="682.2" y="323.3" font-size="20" text-anchor="middle" font-weight="normal" fill="#000" >0</text>
<text x="799.8" y="323.3" font-size="20" text-anchor="middle" font-weight="normal" fill="#000" >0.2</text>
<text x="642.4" y="345.4" font-size="21">k<tspan font-size="11.5" dy="3.5" font-style="italic">//</tspan><tspan dy="-3.5" dx="5.4"> </tspan>(2π/Λ)</text>
<text transform="translate(496.9,241.2) rotate(-90)" font-size="21">frequency (THz)</text>
<text x="570.2" y="27.7" font-size="19.5" text-anchor="start" font-weight="normal" fill="#000" >M</text>
<text x="675.5" y="27.7" font-size="19.5" text-anchor="start" font-weight="normal" fill="#000" >Γ</text>
<text x="777.2" y="27.7" font-size="19.5" text-anchor="start" font-weight="normal" fill="#000" >X</text>
<path d="M616.4 22 H658.5 M705.4 22 H747.6" stroke="#000" stroke-width="1.5"/>
<path d="M604.6 61.2 H655.8 V111.9 H604.6 Z M655.8 61.6 L630.4 87 H655.8" fill="none" stroke="#000" stroke-width="1.4"/>
<text x="617.0" y="93.6" font-size="20" text-anchor="start" font-weight="normal" fill="#000" >Γ</text>
<text x="662.4" y="62.8" font-size="19.5" text-anchor="start" font-weight="normal" fill="#000" >M</text>
<text x="662.6" y="93.6" font-size="19.5" text-anchor="start" font-weight="normal" fill="#000" >X</text>
<text x="494.8" y="20.4" font-size="23" text-anchor="start" font-weight="bold" fill="#000" >B</text>
<rect x="538.2" y="387.6" width="290.3" height="264.2" fill="none" stroke="#303030" stroke-width="1.5"/>
<path d="M567 387.6 v3.3 M567 651.8 v-3.3 M683 387.6 v3.3 M683 651.8 v-3.3 M799 387.6 v3.3 M799 651.8 v-3.3 M538.2 420.7 h3.3 M828.5 420.7 h-3.3 M538.2 486.4 h3.3 M828.5 486.4 h-3.3 M538.2 552 h3.3 M828.5 552 h-3.3 M538.2 617.6 h3.3 M828.5 617.6 h-3.3" stroke="#222222" stroke-width="1.5" fill="none"/>
<clipPath id="clipC"><rect x="537.2" y="387.6" width="292.3" height="264.2"/></clipPath>
<g clip-path="url(#clipC)" fill="none" stroke-width="3.3" stroke-linejoin="round" stroke-linecap="butt">
<polyline points="538.2,619.7 539.4,620.2 540.6,620.6 541.9,621.0 543.1,621.2 544.3,621.4 545.5,621.5 546.7,621.4 547.9,621.2 549.2,621.0 550.4,620.5 551.6,619.9 552.8,619.3 554.0,618.7 555.2,618.0 556.5,617.4 557.7,616.8 558.9,616.2 560.1,615.6 561.3,615.1 562.5,614.6 563.8,614.1 565.0,613.6 566.2,613.1 567.4,612.7 568.6,612.3 569.8,611.9 571.1,611.5 572.3,611.1 573.5,610.7 574.7,610.4 575.9,610.0 577.1,609.7 578.4,609.3 579.6,609.0 580.8,608.7 582.0,608.4 583.2,608.1 584.4,607.8 585.7,607.5 586.9,607.2 588.1,606.9 589.3,606.6 590.5,606.3 591.7,606.0 593.0,605.7 594.2,605.4 595.4,605.1 596.6,604.8 597.8,604.5 599.0,604.2 600.3,603.9 601.5,603.7 602.7,603.4 603.9,603.1 605.1,602.8 606.3,602.6 607.6,602.3 608.8,602.0 610.0,601.7 611.2,601.5 612.4,601.2 613.6,600.9 614.9,600.7 616.1,600.4 617.3,600.1 618.5,599.9 619.7,599.6 620.9,599.4 622.2,599.1 623.4,598.9 624.6,598.6 625.8,598.4 627.0,598.1 628.2,597.9 629.5,597.6 630.7,597.4 631.9,597.1 633.1,596.9 634.3,596.7 635.5,596.4 636.8,596.2 638.0,596.0 639.2,595.7 640.4,595.4 641.6,595.1 642.8,594.8 644.1,594.5 645.3,594.1 646.5,593.8 647.7,593.3 648.9,592.8 650.1,592.1 651.4,591.4 652.6,590.6 653.8,589.7 655.0,588.8 656.2,587.8 657.4,586.8 658.7,585.7 659.9,584.5 661.1,583.3 662.3,582.0 663.5,580.6 664.7,579.1 666.0,577.4 667.2,575.6 668.4,573.7 669.6,571.6 670.8,569.2 672.0,566.5 673.3,563.5 674.5,560.1 675.7,556.1 676.9,551.1 678.1,544.8 679.3,534.6 680.6,521.0 681.8,504.5 683.0,487.5 683.0,487.5 684.2,504.2 685.4,518.8 686.7,532.0 687.9,543.0 689.1,549.9 690.3,555.3 691.6,559.6 692.8,563.1 694.0,566.2 695.2,568.9 696.4,571.2 697.7,573.4 698.9,575.3 700.1,577.1 701.3,578.7 702.6,580.2 703.8,581.5 705.0,582.8 706.2,584.0 707.5,585.2 708.7,586.3 709.9,587.3 711.1,588.3 712.3,589.2 713.6,590.0 714.8,590.8 716.0,591.5 717.2,592.2 718.5,592.9 719.7,593.5 720.9,594.2 722.1,594.9 723.3,595.5 724.6,596.1 725.8,596.6 727.0,597.1 728.2,597.6 729.5,598.1 730.7,598.6 731.9,599.0 733.1,599.5 734.4,599.9 735.6,600.3 736.8,600.7 738.0,601.1 739.2,601.5 740.5,601.9 741.7,602.2 742.9,602.6 744.1,603.0 745.4,603.3 746.6,603.7 747.8,604.0 749.0,604.2 750.2,604.5 751.5,604.8 752.7,605.1 753.9,605.4 755.1,605.8 756.4,606.1 757.6,606.4 758.8,606.8 760.0,607.1 761.3,607.5 762.5,607.9 763.7,608.3 764.9,608.8 766.1,609.2 767.4,609.6 768.6,610.1 769.8,610.5 771.0,610.9 772.3,611.4 773.5,611.8 774.7,612.3 775.9,612.8 777.1,613.4 778.4,614.0 779.6,614.5 780.8,615.1 782.0,615.7 783.3,616.3 784.5,616.9 785.7,617.5 786.9,618.1 788.2,618.8 789.4,619.4 790.6,620.1 791.8,620.7 793.0,621.3 794.3,621.9 795.5,622.5 796.7,623.0 797.9,623.5 799.2,623.8 800.4,624.2 801.6,624.5 802.8,624.6 804.0,624.6 805.3,624.6 806.5,624.5 807.7,624.1 808.9,623.6 810.2,623.1 811.4,622.5 812.6,621.8 813.8,621.1 815.1,620.3 816.3,619.5 817.5,618.7 818.7,617.9 819.9,617.1 821.2,616.3 822.4,615.6 823.6,614.9 824.8,614.2 826.1,613.5 827.3,612.8 828.5,612.2" stroke="#0072BD"/>
<polyline points="538.2,600.6 540.6,602.2 543.1,603.6 545.5,604.6 548.0,605.0 550.4,604.9 552.8,604.6 555.3,604.1 557.7,603.5 560.2,602.8 562.6,602.1 565.0,601.5 567.5,600.9 569.9,600.3 572.4,599.8 574.8,599.4 577.2,599.0 579.7,598.6 582.1,598.3 584.6,598.1 587.0,597.9 589.4,597.7 591.9,597.6 594.3,597.5 596.7,597.5 599.2,597.5 601.6,597.5 604.1,597.6 606.5,597.7 608.9,597.8 611.4,598.0 613.8,598.1 616.3,598.2 618.7,598.3 621.1,598.4 623.6,598.5 626.0,598.5 628.5,598.6 630.9,598.6 633.3,598.7 635.8,598.7 638.2,598.8 640.7,598.8 643.1,598.9 645.5,598.9 648.0,599.0 650.4,599.2 652.9,599.5 655.3,599.8 657.7,600.2 660.2,600.4 662.6,600.7 665.1,601.0 667.5,601.3 669.9,601.5 672.4,601.6 674.8,601.7 677.3,601.9 679.7,601.9 682.1,602.0 684.6,602.0 687.0,602.0 689.4,601.9 691.9,601.9 694.3,601.8 696.8,601.7 699.2,601.6 701.6,601.5 704.1,601.4 706.5,601.3 709.0,601.2 711.4,601.0 713.8,600.9 716.3,600.8 718.7,600.7 721.2,600.5 723.6,600.3 726.0,600.1 728.5,599.9 730.9,599.7 733.4,599.5 735.8,599.3 738.2,599.1 740.7,598.9 743.1,598.7 745.6,598.5 748.0,598.2 750.4,597.9 752.9,597.6 755.3,597.2 757.8,596.8 760.2,596.4 762.6,596.0 765.1,595.5 767.5,595.1 770.0,594.6 772.4,594.1 774.8,593.6 777.3,593.2 779.7,592.7 782.1,592.2 784.6,591.8 787.0,591.3 789.5,590.8 791.9,590.4 794.3,589.9 796.8,589.5 799.2,589.1 801.7,588.6 804.1,588.2 806.5,587.8 809.0,587.4 811.4,586.9 813.9,586.5 816.3,586.1 818.7,585.7 821.2,585.3 823.6,584.9 826.1,584.6 828.5,584.2" stroke="#EDB120"/>
<polyline points="538.2,543.5 538.3,543.1 538.4,542.8 538.5,542.4 538.6,542.1 538.6,541.7 538.7,541.4 538.8,541.0 538.9,540.6 539.0,540.3 539.1,539.9 539.2,539.5 539.3,539.2 539.3,538.8 539.4,538.4 539.5,538.1 539.6,537.7 539.7,537.3 539.8,536.9 539.9,536.5 540.0,536.1 540.1,535.8 540.1,535.4 540.2,535.0 540.3,534.6 540.4,534.2 540.5,533.8 540.6,533.4 540.7,533.0 540.8,532.6 540.8,532.2 540.9,531.8 541.0,531.4 541.1,531.0 541.2,530.6 541.3,530.2 541.4,529.8 541.5,529.4 541.6,529.0 541.6,528.6 541.7,528.2 541.8,527.8 541.9,527.5 542.0,527.1 542.1,526.7 542.2,526.3 542.3,525.9 542.3,525.5 542.4,525.1 542.5,524.7 542.6,524.3 542.7,523.9 542.8,523.5 542.9,523.0 543.0,522.6 543.1,522.2 543.1,521.7 543.2,521.3 543.3,520.8 543.4,520.4 543.5,519.9 543.6,519.4 543.7,518.9 543.8,518.4 543.8,517.9 543.9,517.4 544.0,516.9 544.1,516.3 544.2,515.8 544.3,515.2 544.4,514.7 544.5,514.1 544.6,513.4 544.6,512.8 544.7,512.1 544.8,511.5 544.9,510.8 545.0,510.0 545.1,509.3 545.2,508.5 545.3,507.7 545.3,506.9 545.4,506.1 545.5,505.3 545.6,504.4 545.7,503.5 545.8,502.7 545.9,501.8 546.0,500.9 546.1,499.9 546.1,499.0 546.2,498.1 546.3,497.1 546.4,496.1 546.5,495.2 546.6,494.2 546.7,493.2 546.8,492.1 546.8,490.8 546.9,489.6 547.0,488.3 547.1,486.9 547.2,485.6 547.3,484.3 547.4,483.0 547.5,481.8 547.6,480.6 547.6,479.6 547.7,478.6 547.8,477.9 547.9,477.1 548.0,476.4 548.1,475.7 548.2,475.1 548.3,474.5 548.3,474.0 548.4,473.5 548.5,473.0 548.6,472.6 548.7,472.3 549.5,472.3 551.5,496.6 553.5,514.3 555.5,525.2 557.5,532.8 559.5,537.9 561.5,542.0 563.5,545.7 565.5,548.9 567.5,551.7 569.5,554.2 571.5,556.5 573.5,558.7 575.5,560.7 577.5,562.5 579.5,564.1 581.5,565.6 583.5,566.9 585.5,568.2 587.5,569.4 589.6,570.6 591.6,571.7 593.6,572.8 595.6,573.8 597.6,574.8 599.6,575.8 601.6,576.7 603.6,577.6 605.6,578.4 607.6,579.2 609.6,580.0 611.6,580.7 613.6,581.4 615.6,582.1 617.6,582.9 619.6,583.6 621.6,584.3 623.6,585.0 625.6,585.7 627.6,586.4 629.6,587.1 631.6,587.7 633.6,588.3 635.6,588.9 637.6,589.5 639.6,590.1 641.6,590.7 643.6,591.3 645.6,591.9 647.6,592.6 649.6,593.2 651.6,593.8 653.6,594.4 655.6,595.1 657.6,595.7 659.6,596.3 661.6,597.0 663.6,597.6 665.6,598.2 667.6,598.8 669.7,599.3 671.7,599.8 673.7,600.2 675.7,600.6 677.7,600.9 679.7,601.1 681.7,601.3 683.7,601.3 685.7,601.2 687.7,601.0 689.7,600.7 691.7,600.4 693.7,600.0 695.7,599.5 697.7,598.9 699.7,598.3 701.7,597.6 703.7,596.9 705.7,596.1 707.7,595.2 709.7,594.2 711.7,593.2 713.7,592.1 715.7,591.0 717.7,589.9 719.7,588.7 721.7,587.4 723.7,586.0 725.7,584.6 727.7,583.1 729.7,581.6 731.7,580.1 733.7,578.5 735.7,576.9 737.7,575.2 739.7,573.5 741.7,571.8 743.7,570.0 745.7,568.2 747.7,566.4 749.8,564.6 751.8,562.7 753.8,560.7 755.8,558.5 757.8,556.2 759.8,553.7 761.8,551.0 763.8,548.1 765.8,545.0 767.8,541.8 769.8,538.4 771.8,534.7 773.8,530.6 775.8,526.3 777.8,521.4 779.8,515.6 781.8,508.4 783.8,498.4 785.8,482.5 787.8,443.0 787.8,443.0 788.1,451.4 788.5,459.1 788.8,466.4 789.2,472.9 789.5,478.1 789.9,482.8 790.2,487.0 790.5,490.7 790.9,493.7 791.2,496.3 791.6,498.7 791.9,501.0 792.2,503.1 792.6,505.0 792.9,506.9 793.3,508.5 793.6,510.1 794.0,511.5 794.3,512.9 794.6,514.1 795.0,515.2 795.3,516.3 795.7,517.4 796.0,518.4 796.4,519.3 796.7,520.2 797.0,521.1 797.4,522.0 797.7,522.8 798.1,523.6 798.4,524.3 798.7,525.1 799.1,525.8 799.4,526.5 799.8,527.1 800.1,527.8 800.5,528.5 800.8,529.1 801.1,529.8 801.5,530.4 801.8,531.1 802.2,531.7 802.5,532.4 802.8,533.1 803.2,533.7 803.5,534.4 803.9,535.0 804.2,535.6 804.6,536.2 804.9,536.8 805.2,537.4 805.6,538.0 805.9,538.6 806.3,539.2 806.6,539.8 807.0,540.3 807.3,540.9 807.6,541.4 808.0,542.0 808.3,542.5 808.7,543.0 809.0,543.5 809.3,544.0 809.7,544.5 810.0,545.0 810.4,545.5 810.7,546.0 811.1,546.5 811.4,546.9 811.7,547.4 812.1,547.9 812.4,548.3 812.8,548.7 813.1,549.2 813.5,549.6 813.8,550.0 814.1,550.5 814.5,550.9 814.8,551.3 815.2,551.7 815.5,552.1 815.8,552.5 816.2,552.9 816.5,553.3 816.9,553.7 817.2,554.1 817.6,554.5 817.9,554.9 818.2,555.3 818.6,555.7 818.9,556.1 819.3,556.6 819.6,557.0 819.9,557.4 820.3,557.8 820.6,558.2 821.0,558.6 821.3,559.0 821.7,559.5 822.0,559.9 822.3,560.3 822.7,560.7 823.0,561.1 823.4,561.6 823.7,562.0 824.1,562.4 824.4,562.8 824.7,563.2 825.1,563.6 825.4,564.0 825.8,564.4 826.1,564.8 826.4,565.2 826.8,565.6 827.1,566.0 827.5,566.4 827.8,566.8 828.2,567.1 828.5,567.5" stroke="#BC41FB"/>
<polyline points="538.2,581.0 538.5,580.7 538.7,580.3 539.0,580.0 539.2,579.7 539.5,579.3 539.7,579.0 540.0,578.6 540.2,578.3 540.5,577.9 540.7,577.6 541.0,577.2 541.2,576.9 541.5,576.5 541.7,576.2 542.0,575.8 542.2,575.5 542.5,575.1 542.8,574.8 543.0,574.4 543.3,574.0 543.5,573.7 543.8,573.3 544.0,572.9 544.3,572.6 544.5,572.2 544.8,571.8 545.0,571.5 545.3,571.1 545.5,570.7 545.8,570.3 546.0,570.0 546.3,569.6 546.5,569.2 546.8,568.9 547.1,568.5 547.3,568.1 547.6,567.8 547.8,567.4 548.1,567.0 548.3,566.6 548.6,566.2 548.8,565.9 549.1,565.5 549.3,565.1 549.6,564.7 549.8,564.3 550.1,563.9 550.3,563.4 550.6,563.0 550.8,562.6 551.1,562.1 551.4,561.7 551.6,561.2 551.9,560.8 552.1,560.3 552.4,559.8 552.6,559.3 552.9,558.8 553.1,558.3 553.4,557.7 553.6,557.2 553.9,556.7 554.1,556.1 554.4,555.5 554.6,554.9 554.9,554.3 555.1,553.7 555.4,553.1 555.7,552.5 555.9,551.8 556.2,551.2 556.4,550.5 556.7,549.8 556.9,549.1 557.2,548.4 557.4,547.7 557.7,546.9 557.9,546.1 558.2,545.4 558.4,544.6 558.7,543.7 558.9,542.9 559.2,542.0 559.4,541.1 559.7,540.2 560.0,539.2 560.2,538.2 560.5,537.2 560.7,536.2 561.0,535.1 561.2,534.0 561.5,532.9 561.7,531.7 562.0,530.4 562.2,529.1 562.5,527.8 562.7,526.3 563.0,524.8 563.2,523.3 563.5,521.7 563.7,520.0 564.0,518.3 564.3,516.5 564.5,514.7 564.8,512.7 565.0,510.7 565.3,508.5 565.5,506.2 565.8,503.7 566.0,501.1 566.3,498.3 566.5,494.9 566.8,491.1 567.0,487.2 567.3,483.6 567.5,480.4 567.8,477.4 568.0,474.5 568.3,471.9 569.2,471.9 570.2,479.1 571.1,488.6 572.1,499.1 573.0,508.9 574.0,515.5 574.9,520.5 575.9,524.7 576.9,528.3 577.8,531.6 578.8,534.4 579.7,536.9 580.7,539.1 581.6,541.1 582.6,543.0 583.5,544.7 584.5,546.3 585.5,547.7 586.4,549.0 587.4,550.2 588.3,551.4 589.3,552.4 590.2,553.4 591.2,554.4 592.2,555.2 593.1,556.0 594.1,556.7 595.0,557.4 596.0,558.0 596.9,558.5 597.9,559.1 598.8,559.6 599.8,560.0 600.8,560.5 601.7,560.9 602.7,561.3 603.6,561.7 604.6,562.0 605.5,562.4 606.5,562.7 607.5,563.1 608.4,563.4 609.4,563.7 610.3,564.1 611.3,564.3 612.2,564.6 613.2,564.8 614.1,565.0 615.1,565.2 616.1,565.3 617.0,565.5 618.0,565.6 618.9,565.7 619.9,565.8 620.8,565.9 621.8,566.1 622.8,566.2 623.7,566.2 624.7,566.3 625.6,566.4 626.6,566.4 627.5,566.5 628.5,566.5 629.4,566.5 630.4,566.5 631.4,566.4 632.3,566.4 633.3,566.3 634.2,566.2 635.2,566.0 636.1,565.9 637.1,565.7 638.1,565.5 639.0,565.4 640.0,565.2 640.9,564.9 641.9,564.7 642.8,564.5 643.8,564.3 644.7,564.0 645.7,563.7 646.7,563.3 647.6,562.9 648.6,562.4 649.5,561.9 650.5,561.3 651.4,560.7 652.4,560.1 653.4,559.5 654.3,558.8 655.3,558.1 656.2,557.3 657.2,556.5 658.1,555.5 659.1,554.4 660.0,553.3 661.0,552.0 662.0,550.7 662.9,549.4 663.9,548.0 664.8,546.5 665.8,545.0 666.7,543.3 667.7,541.5 668.7,539.6 669.6,537.5 670.6,535.3 671.5,532.8 672.5,530.0 673.4,527.1 674.4,523.8 675.3,520.4 676.3,516.7 677.3,512.9 678.2,508.6 679.2,503.4 680.1,496.9 681.1,487.7 682.0,471.2 683.0,436.4 683.0,436.4 684.2,476.2 685.4,491.8 686.7,500.6 687.9,507.3 689.1,512.6 690.3,517.2 691.6,521.9 692.8,526.4 694.0,530.6 695.2,534.2 696.4,537.2 697.7,539.7 698.9,541.9 700.1,543.9 701.3,545.7 702.6,547.4 703.8,548.9 705.0,550.4 706.2,551.7 707.5,552.9 708.7,554.0 709.9,555.1 711.1,556.2 712.3,557.2 713.6,558.2 714.8,559.2 716.0,560.2 717.2,561.1 718.5,561.9 719.7,562.6 720.9,563.3 722.1,563.9 723.3,564.5 724.6,565.0 725.8,565.5 727.0,566.0 728.2,566.4 729.5,566.8 730.7,567.1 731.9,567.4 733.1,567.7 734.4,567.9 735.6,568.1 736.8,568.3 738.0,568.4 739.2,568.5 740.5,568.5 741.7,568.6 742.9,568.6 744.1,568.6 745.4,568.6 746.6,568.6 747.8,568.5 749.0,568.4 750.2,568.3 751.5,568.2 752.7,568.0 753.9,567.9 755.1,567.7 756.4,567.4 757.6,567.2 758.8,566.9 760.0,566.6 761.3,566.4 762.5,566.1 763.7,565.8 764.9,565.5 766.1,565.2 767.4,564.9 768.6,564.6 769.8,564.3 771.0,564.0 772.3,563.6 773.5,563.3 774.7,562.9 775.9,562.5 777.1,562.1 778.4,561.6 779.6,561.2 780.8,560.7 782.0,560.2 783.3,559.6 784.5,559.0 785.7,558.5 786.9,557.9 788.2,557.2 789.4,556.6 790.6,555.9 791.8,555.2 793.0,554.4 794.3,553.6 795.5,552.8 796.7,551.9 797.9,551.0 799.2,550.1 800.4,549.2 801.6,548.2 802.8,547.2 804.0,546.2 805.3,545.2 806.5,544.1 807.7,542.9 808.9,541.7 810.2,540.4 811.4,539.1 812.6,537.6 813.8,536.1 815.1,534.5 816.3,532.8 817.5,531.1 818.7,529.3 819.9,527.5 821.2,525.6 822.4,523.6 823.6,521.6 824.8,519.5 826.1,517.4 827.3,515.2 828.5,513.0" stroke="#77AC30"/>
</g>
<text x="503.6" y="425.3" font-size="20.6">10<tspan font-size="12.2" dy="-6.4" dx="0.3">8</tspan></text>
<text x="503.6" y="491.3" font-size="20.6">10<tspan font-size="12.2" dy="-6.4" dx="0.3">6</tspan></text>
<text x="503.6" y="557.0" font-size="20.6">10<tspan font-size="12.2" dy="-6.4" dx="0.3">4</tspan></text>
<text x="503.6" y="622.2" font-size="20.6">10<tspan font-size="12.2" dy="-6.4" dx="0.3">2</tspan></text>
<text x="567.8" y="673.3" font-size="20" text-anchor="middle" font-weight="normal" fill="#000" >0.2</text>
<text x="680.8" y="673.3" font-size="20" text-anchor="middle" font-weight="normal" fill="#000" >0</text>
<text x="797.8" y="673.3" font-size="20" text-anchor="middle" font-weight="normal" fill="#000" >0.2</text>
<text x="641.8" y="696.4" font-size="21">k<tspan font-size="11.5" dy="3.5" font-style="italic">//</tspan><tspan dy="-3.5" dx="6.0"> </tspan>(2π/Λ)</text>
<text transform="translate(498.2,540.6) rotate(-90)" font-size="21">Q factor</text>
<text x="574.4" y="376.2" font-size="19.5" text-anchor="start" font-weight="normal" fill="#000" >M</text>
<text x="681.6" y="376.2" font-size="19.5" text-anchor="start" font-weight="normal" fill="#000" >Γ</text>
<text x="781.6" y="376.2" font-size="19.5" text-anchor="start" font-weight="normal" fill="#000" >X</text>
<path d="M620.8 370.4 H662.4 M709.8 370.4 H751.8" stroke="#000" stroke-width="1.5"/>
<text x="496.0" y="360.5" font-size="23" text-anchor="start" font-weight="bold" fill="#000" >C</text>
<path d="M587.3 413.8 H613.5" stroke="#0072BD" stroke-width="3.4"/>
<text x="616.0" y="418.6" font-size="20">1<tspan font-size="12.5" dy="-7" dx="0.6">st</tspan></text>
<path d="M587.3 440.9 H613.5" stroke="#EDB120" stroke-width="3.4"/>
<text x="616.0" y="445.7" font-size="20">2<tspan font-size="12.5" dy="-7" dx="0.6">nd</tspan></text>
<path d="M587.3 467.9 H613.5" stroke="#BC41FB" stroke-width="3.4"/>
<text x="616.0" y="472.7" font-size="20">3<tspan font-size="12.5" dy="-7" dx="0.6">rd</tspan></text>
<path d="M587.3 495.0 H613.5" stroke="#77AC30" stroke-width="3.4"/>
<text x="616.0" y="499.8" font-size="20">4<tspan font-size="12.5" dy="-7" dx="0.6">th</tspan></text>
<text x="692.0" y="413.3" font-size="18" text-anchor="start" font-weight="normal" fill="#000" >BIC-2</text>
<text x="754.3" y="411.6" font-size="18" text-anchor="start" font-weight="normal" fill="#000" >BIC-3</text>
<text x="692.0" y="471.6" font-size="18" text-anchor="start" font-weight="normal" fill="#000" >BIC-1</text>
<path d="M709.1 422.2 L697.5 429.2" stroke="#77AC30" stroke-width="2.6" fill="none"/><path d="M689.0 434.4 L695.7 425.3 L698.0 429.0 L700.2 432.6 Z" fill="#77AC30"/>
<path d="M708.6 458.6 L698.3 451.0" stroke="#0072BD" stroke-width="2.6" fill="none"/><path d="M690.3 445.0 L701.3 447.8 L698.7 451.3 L696.2 454.7 Z" fill="#0072BD"/>
<path d="M779.0 422.8 L782.6 432.7" stroke="#BC41FB" stroke-width="2.6" fill="none"/><path d="M786.1 442.1 L778.4 433.7 L782.5 432.2 L786.5 430.8 Z" fill="#BC41FB"/>
<rect x="925.6" y="39.9" width="264.7" height="264" fill="none" stroke="#303030" stroke-width="1.5"/>
<path d="M969.7 39.9 v3.3 M969.7 303.9 v-3.3 M1057.9 39.9 v3.3 M1057.9 303.9 v-3.3 M1146.1 39.9 v3.3 M1146.1 303.9 v-3.3 M925.6 83.9 h3.3 M1190.3 83.9 h-3.3 M925.6 171.9 h3.3 M1190.3 171.9 h-3.3 M925.6 259.9 h3.3 M1190.3 259.9 h-3.3" stroke="#222222" stroke-width="1.5" fill="none"/>
<text x="918.5" y="96.6" font-size="20" text-anchor="end" font-weight="normal" fill="#000" >0.1</text>
<text x="906.6" y="184.3" font-size="20" text-anchor="end" font-weight="normal" fill="#000" >0</text>
<text x="918.5" y="271.1" font-size="20" text-anchor="end" font-weight="normal" fill="#000" >-0.1</text>
<text x="964.4" y="327.9" font-size="20" text-anchor="middle" font-weight="normal" fill="#000" >-0.1</text>
<text x="1061.2" y="327.9" font-size="20" text-anchor="middle" font-weight="normal" fill="#000" >0</text>
<text x="1148.8" y="327.9" font-size="20" text-anchor="middle" font-weight="normal" fill="#000" >0.1</text>
<text x="933.8" y="30.1" font-size="20.9" text-anchor="start" font-weight="normal" fill="#000" >Polarization vortex of BIC-1</text>
<text x="870.2" y="20.8" font-size="23" text-anchor="start" font-weight="bold" fill="#000" >D</text>
<text x="1020.2" y="348.3" font-size="21">k<tspan font-size="13.5" dy="2.0" dx="-1.0">x</tspan><tspan dy="-2.0" dx="4.6"> </tspan>(2π/Λ)</text>
<text transform="translate(884.5,204.5) rotate(-90)" font-size="21">k<tspan font-size="13.5" dy="2.0" dx="-1.0">y</tspan><tspan dy="-2.0" dx="4.6"> </tspan>(2π/Λ)</text>
<rect x="1207.70" y="43.4" width="14.10" height="262.3" fill="url(#jetv)"/>
<path d="M1207.70 43.6 H1221.50 V305.7" fill="none" stroke="#2a1010" stroke-opacity="0.8" stroke-width="0.9"/>
<path d="M1221.30 174.5 h-3" stroke="#333" stroke-opacity="0.6" stroke-width="1"/>
<text x="1222.8" y="56.3" font-size="20" text-anchor="start" font-weight="normal" fill="#000" >2π</text>
<text x="1227.2" y="182.0" font-size="20" text-anchor="start" font-weight="normal" fill="#000" >π</text>
<text x="1230.4" y="307.6" font-size="20" text-anchor="start" font-weight="normal" fill="#000" >0</text>
<text x="1204.0" y="327.8" font-size="20.5"><tspan font-style="italic">ϕ</tspan>(k)</text>
<text x="1059.8" y="178.1" font-size="21" text-anchor="middle" font-weight="normal" fill="#000" >-1</text>
<path d="M1057.6 62.2 L1057.6 92.2" stroke="#fff" stroke-width="4" fill="none"/><path d="M1057.6 108.4 L1052.0 91.7 L1057.6 91.7 L1063.1 91.7 Z" fill="#fff"/>
<path d="M1057.6 282.1 L1057.6 252.2" stroke="#fff" stroke-width="4" fill="none"/><path d="M1057.6 236.1 L1063.1 252.8 L1057.6 252.8 L1052.0 252.8 Z" fill="#fff"/>
<path d="M991.2 172.1 L961.5 172.1" stroke="#fff" stroke-width="4" fill="none"/><path d="M945.3 172.1 L962.0 166.5 L962.0 172.1 L962.0 177.6 Z" fill="#fff"/>
<path d="M1124.2 172.1 L1154.1 172.1" stroke="#fff" stroke-width="4" fill="none"/><path d="M1170.3 172.1 L1153.6 177.6 L1153.6 172.1 L1153.6 166.5 Z" fill="#fff"/>
<path d="M1010.8 94.8 L989.8 115.2" stroke="#fff" stroke-width="4" fill="none"/><path d="M978.2 126.5 L986.3 110.8 L990.2 114.8 L994.0 118.8 Z" fill="#fff"/>
<path d="M1010.8 249.6 L989.8 229.1" stroke="#fff" stroke-width="4" fill="none"/><path d="M978.2 217.9 L994.0 225.5 L990.2 229.5 L986.3 233.5 Z" fill="#fff"/>
<path d="M1104.4 94.8 L1125.4 115.2" stroke="#fff" stroke-width="4" fill="none"/><path d="M1137.0 126.5 L1121.2 118.8 L1125.0 114.8 L1128.9 110.8 Z" fill="#fff"/>
<path d="M1104.4 249.6 L1125.4 229.1" stroke="#fff" stroke-width="4" fill="none"/><path d="M1137.0 217.9 L1128.9 233.5 L1125.0 229.5 L1121.2 225.5 Z" fill="#fff"/>
<rect x="925.6" y="387.9" width="264.7" height="264.2" fill="none" stroke="#303030" stroke-width="1.5"/>
<path d="M969.7 387.9 v3.3 M969.7 652.1 v-3.3 M1057.9 387.9 v3.3 M1057.9 652.1 v-3.3 M1146.1 387.9 v3.3 M1146.1 652.1 v-3.3 M925.6 432.0 h3.3 M1190.3 432.0 h-3.3 M925.6 520.0 h3.3 M1190.3 520.0 h-3.3 M925.6 608.0 h3.3 M1190.3 608.0 h-3.3" stroke="#222222" stroke-width="1.5" fill="none"/>
<text x="920.0" y="440.9" font-size="20" text-anchor="end" font-weight="normal" fill="#000" >0.1</text>
<text x="908.6" y="528.6" font-size="20" text-anchor="end" font-weight="normal" fill="#000" >0</text>
<text x="920.0" y="617.2" font-size="20" text-anchor="end" font-weight="normal" fill="#000" >-0.1</text>
<text x="963.8" y="675.2" font-size="20" text-anchor="middle" font-weight="normal" fill="#000" >-0.1</text>
<text x="1059.0" y="675.2" font-size="20" text-anchor="middle" font-weight="normal" fill="#000" >0</text>
<text x="1151.0" y="675.2" font-size="20" text-anchor="middle" font-weight="normal" fill="#000" >0.1</text>
<text x="933.8" y="380.9" font-size="20.9" text-anchor="start" font-weight="normal" fill="#000" >Polarization vortex of BIC-2</text>
<text x="870.2" y="362.6" font-size="23" text-anchor="start" font-weight="bold" fill="#000" >E</text>
<text x="1020.2" y="696.6" font-size="21">k<tspan font-size="13.5" dy="2.0" dx="-1.0">x</tspan><tspan dy="-2.0" dx="4.6"> </tspan>(2π/Λ)</text>
<text transform="translate(887.6,554.0) rotate(-90)" font-size="21">k<tspan font-size="13.5" dy="2.0" dx="-1.0">y</tspan><tspan dy="-2.0" dx="4.6"> </tspan>(2π/Λ)</text>
<rect x="1208.85" y="390.3" width="13.85" height="262.2" fill="url(#jetv)"/>
<path d="M1222.20 521.4 h-3" stroke="#333" stroke-opacity="0.6" stroke-width="1"/>
<text x="1227.5" y="403.8" font-size="20" text-anchor="start" font-weight="normal" fill="#000" >2π</text>
<text x="1228.5" y="526.3" font-size="20" text-anchor="start" font-weight="normal" fill="#000" >π</text>
<text x="1232.4" y="653.0" font-size="20" text-anchor="start" font-weight="normal" fill="#000" >0</text>
<text x="1204.6" y="675.7" font-size="20.5"><tspan font-style="italic">ϕ</tspan>(k)</text>
<text x="1057.0" y="525.4" font-size="21" text-anchor="middle" font-weight="normal" fill="#000" >+1</text>
<path d="M1057.6 453.9 L1057.6 424.3" stroke="#fff" stroke-width="4" fill="none"/><path d="M1057.6 408.1 L1063.1 424.8 L1057.6 424.8 L1052.0 424.8 Z" fill="#fff"/>
<path d="M1057.6 586.3 L1057.6 616.0" stroke="#fff" stroke-width="4" fill="none"/><path d="M1057.6 632.2 L1052.0 615.5 L1057.6 615.5 L1063.1 615.5 Z" fill="#fff"/>
<path d="M991.2 519.8 L961.5 519.8" stroke="#fff" stroke-width="4" fill="none"/><path d="M945.3 519.8 L962.0 514.3 L962.0 519.8 L962.0 525.4 Z" fill="#fff"/>
<path d="M1124.2 519.8 L1154.1 519.8" stroke="#fff" stroke-width="4" fill="none"/><path d="M1170.3 519.8 L1153.6 525.4 L1153.6 519.8 L1153.6 514.3 Z" fill="#fff"/>
<path d="M1010.6 472.3 L990.1 452.2" stroke="#fff" stroke-width="4" fill="none"/><path d="M978.6 440.8 L994.4 448.6 L990.5 452.5 L986.6 456.5 Z" fill="#fff"/>
<path d="M1010.6 567.9 L990.1 588.0" stroke="#fff" stroke-width="4" fill="none"/><path d="M978.6 599.4 L986.6 583.7 L990.5 587.7 L994.4 591.6 Z" fill="#fff"/>
<path d="M1104.6 472.3 L1125.1 452.2" stroke="#fff" stroke-width="4" fill="none"/><path d="M1136.6 440.8 L1128.6 456.5 L1124.7 452.5 L1120.8 448.6 Z" fill="#fff"/>
<path d="M1104.6 567.9 L1125.1 588.0" stroke="#fff" stroke-width="4" fill="none"/><path d="M1136.6 599.4 L1120.8 591.6 L1124.7 587.7 L1128.6 583.7 Z" fill="#fff"/>
</svg>
</body></html>
